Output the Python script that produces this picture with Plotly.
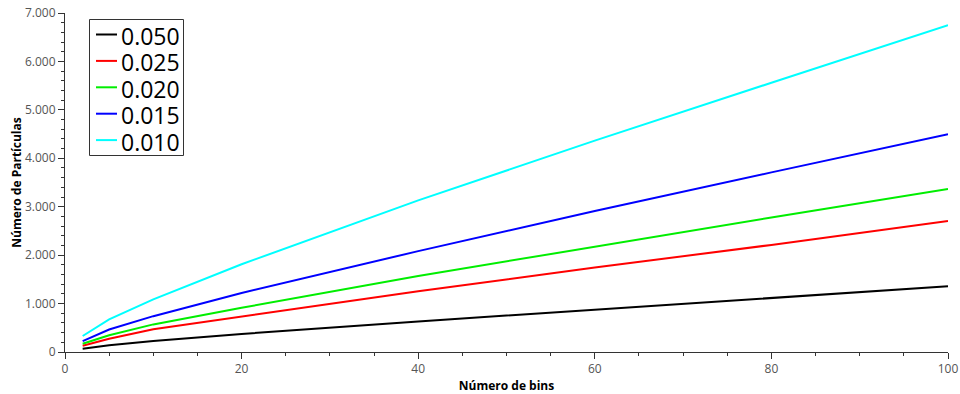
import plotly.graph_objects as go

# Number of bins evaluated
bins = [2, 5, 10, 20, 40, 60, 80, 100]

# Particle counts for each bandwidth
h_0050 = [68, 140, 225, 372, 631, 873, 1114, 1357]
h_0025 = [130, 275, 470, 732, 1254, 1744, 2211, 2707]
h_0020 = [170, 345, 570, 913, 1570, 2180, 2777, 3368]
h_0015 = [225, 465, 740, 1219, 2083, 2913, 3709, 4498]
h_0010 = [330, 675, 1088, 1812, 3130, 4364, 5560, 6750]

labels = ["0.050", "0.025", "0.020", "0.015", "0.010"]
values = [h_0050, h_0025, h_0020, h_0015, h_0010]
colors = ["#000000", "#ff0000", "#00ee00", "#0000ff", "#00ffff"]

W, H = 960, 394
ML, MR, MT, MB = 65, 12, 13, 42
PW, PH = W - ML - MR, H - MT - MB


def px(x):
    return (x - ML) / PW


def py(y):
    return (H - MB - y) / PH


fig = go.Figure()
for name, vals, color in zip(labels, values, colors):
    fig.add_trace(go.Scatter(x=bins, y=vals, mode="lines", name=name,
                             showlegend=False, line=dict(color=color, width=2)))

# Compact boxed legend in the upper-left corner
shapes = [dict(type="rect", xref="paper", yref="paper",
               x0=px(89.5), x1=px(183.5), y0=py(155.5), y1=py(19.5),
               line=dict(color="#333333", width=1), fillcolor="white", layer="above")]
annotations = []
for i, (name, color) in enumerate(zip(labels, colors)):
    yc = 34.5 + i * 26.4
    shapes.append(dict(type="line", xref="paper", yref="paper",
                       x0=px(96), x1=px(117), y0=py(yc), y1=py(yc),
                       line=dict(color=color, width=2), layer="above"))
    annotations.append(dict(xref="paper", yref="paper", x=px(119), y=py(yc + 1),
                            xanchor="left", yanchor="middle", showarrow=False,
                            height=25, valign="middle",
                            text=name, font=dict(family="Open Sans", size=23, color="#000000")))

axis_font = dict(family="Open Sans", size=12, color="#555555")
title_font = dict(family="Open Sans", size=12, color="#000000")

fig.update_layout(
    width=W, height=H,
    margin=dict(l=ML, r=MR, t=MT, b=MB),
    paper_bgcolor="white", plot_bgcolor="white",
    separators=",.",
    shapes=shapes, annotations=annotations,
    xaxis=dict(range=[0, 100], tick0=0, dtick=20, ticks="outside", ticklen=6,
               tickcolor="#333333", showline=True, linecolor="#333333", linewidth=1,
               showgrid=False, zeroline=False, tickfont=axis_font, automargin=False,
               minor=dict(dtick=5, ticks="outside", ticklen=3, tickcolor="#333333"),
               title=dict(text="<b>Número de bins</b>", font=title_font, standoff=6)),
    yaxis=dict(range=[0, 7000], tick0=0, dtick=1000, ticks="outside", ticklen=6,
               tickcolor="#333333", showline=True, linecolor="#333333", linewidth=1,
               showgrid=False, zeroline=False, tickfont=axis_font, tickformat=",d",
               automargin=False,
               minor=dict(dtick=200, ticks="outside", ticklen=3, tickcolor="#333333"),
               title=dict(text="<b>Número de Partículas</b>", font=title_font, standoff=0)),
)

fig.write_html("out.html")
